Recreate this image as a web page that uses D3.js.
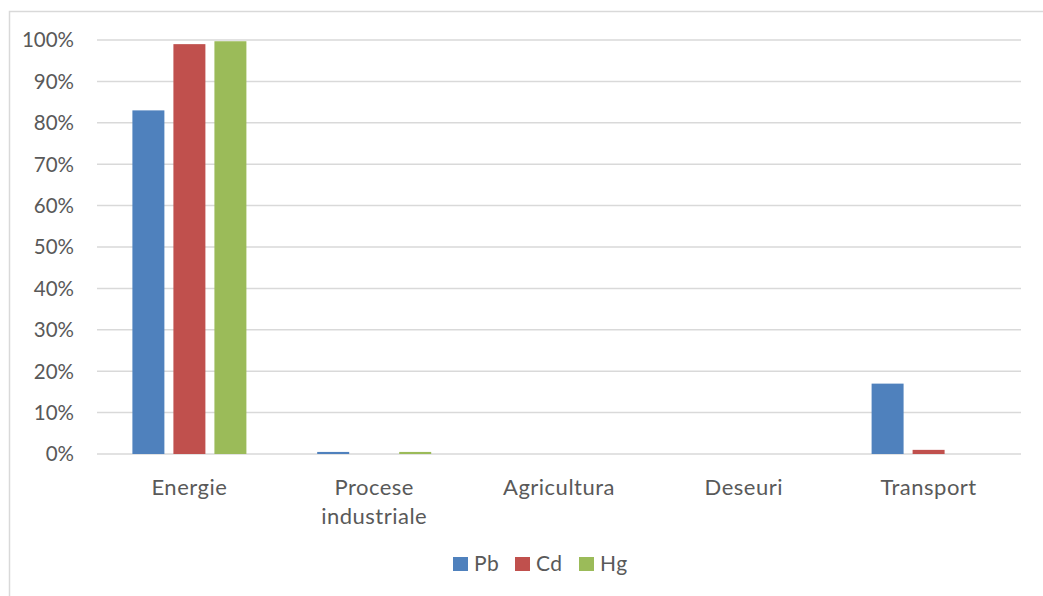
<!DOCTYPE html>
<html>
<head>
<meta charset="utf-8">
<script src="https://cdn.jsdelivr.net/npm/d3@7"></script>
<style>
  html, body { margin: 0; padding: 0; background: #fff; }
  svg { display: block; font-family: Lato, "Open Sans", sans-serif; }
</style>
</head>
<body>
<svg id="chart" width="1043" height="596"></svg>
<script>
// Share of heavy-metal emissions by source sector
const categories = ["Energie", "Procese industriale", "Agricultura", "Deseuri", "Transport"];
const seriesNames = ["Pb", "Cd", "Hg"];
const pbValues = [0.83, 0.005, 0, 0, 0.17];
const cdValues = [0.99, 0, 0, 0, 0.01];
const hgValues = [0.997, 0.005, 0, 0, 0];
const yTicks = [0, 0.1, 0.2, 0.3, 0.4, 0.5, 0.6, 0.7, 0.8, 0.9, 1.0];
const colors = ["#4F81BD", "#C0504D", "#9BBB59"];

const series = [pbValues, cdValues, hgValues];

const svg = d3.select("#chart");

// outer chart frame
svg.append("rect")
  .attr("x", 9.5).attr("y", 11.5)
  .attr("width", 1060).attr("height", 620)
  .attr("fill", "#fff")
  .attr("stroke", "#d9d9d9").attr("stroke-width", 1.5);

const plot = { left: 97, right: 1021, top: 40, bottom: 454 };

const x0 = d3.scaleBand().domain(categories).range([plot.left, plot.right]).paddingInner(0).paddingOuter(0);
const groupWidth = 114;
const x1 = d3.scaleBand().domain(seriesNames).range([0, groupWidth]).paddingInner(0.22);
const y = d3.scaleLinear().domain([0, 1]).range([plot.bottom, plot.top]);

// gridlines
svg.append("g")
  .selectAll("line")
  .data(yTicks)
  .join("line")
  .attr("x1", plot.left).attr("x2", plot.right)
  .attr("y1", d => y(d)).attr("y2", d => y(d))
  .attr("stroke", "#d9d9d9").attr("stroke-width", 1.5);

// y axis labels
const yAxis = d3.axisLeft(y).tickValues(yTicks).tickFormat(d3.format(".0%")).tickSize(0).tickPadding(0);
const yg = svg.append("g").attr("transform", `translate(74,0)`).call(yAxis);
yg.select(".domain").remove();
yg.selectAll("text")
  .attr("fill", "#595959")
  .style("font-size", "20.5px")
  .style("font-family", "Lato, 'Open Sans', sans-serif")
  .attr("dy", "0.34em");

// bars
const groups = svg.append("g")
  .selectAll("g")
  .data(seriesNames.map((name, i) => ({ name, values: series[i], color: colors[i] })))
  .join("g")
  .attr("fill", d => d.color);

groups.selectAll("rect")
  .data(d => d.values.map((v, j) => ({ name: d.name, cat: categories[j], v })))
  .join("rect")
  .filter(d => d.v > 0)
  .attr("x", d => x0(d.cat) + (x0.bandwidth() - groupWidth) / 2 + x1(d.name))
  .attr("width", x1.bandwidth())
  .attr("y", d => y(d.v))
  .attr("height", d => y(0) - y(d.v));

// category labels
const catLabels = [["Energie"], ["Procese", "industriale"], ["Agricultura"], ["Deseuri"], ["Transport"]];
const cg = svg.append("g");
categories.forEach((c, i) => {
  const t = cg.append("text")
    .attr("x", x0(c) + x0.bandwidth() / 2)
    .attr("y", 495)
    .attr("text-anchor", "middle")
    .attr("fill", "#595959")
    .style("font-size", "22px")
    .style("letter-spacing", "0.5px");
  catLabels[i].forEach((line, k) => {
    t.append("tspan")
      .attr("x", x0(c) + x0.bandwidth() / 2)
      .attr("dy", k === 0 ? 0 : 29)
      .text(line);
  });
});

// legend
const legendX = [453, 515, 579];
const lg = svg.append("g");
seriesNames.forEach((name, i) => {
  lg.append("rect")
    .attr("x", legendX[i]).attr("y", 557)
    .attr("width", 15).attr("height", 14)
    .attr("fill", colors[i]);
  lg.append("text")
    .attr("x", legendX[i] + 21).attr("y", 571)
    .attr("fill", "#595959")
    .style("font-size", "21px")
    .style("letter-spacing", "0.5px")
    .text(name);
});
</script>
</body>
</html>
